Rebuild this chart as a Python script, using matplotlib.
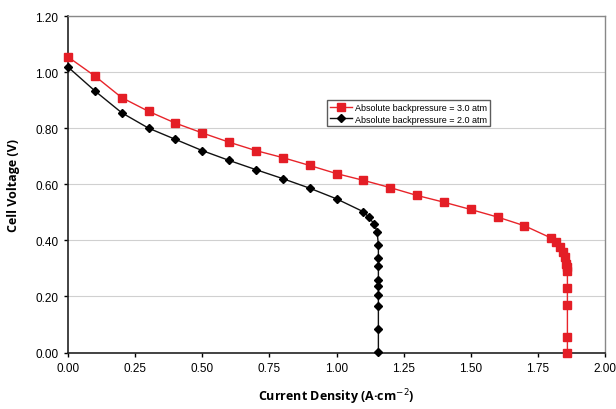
import matplotlib.pyplot as plt
import numpy as np

plt.rcParams['font.family'] = ['Liberation Sans', 'DejaVu Sans']

# backpressure 3.0 atm
j3 = [0.0, 0.1, 0.2, 0.3, 0.4, 0.5, 0.6, 0.7, 0.8, 0.9, 1.0, 1.1, 1.2, 1.3, 1.4,
      1.5, 1.6, 1.7, 1.8, 1.818, 1.832, 1.845, 1.851, 1.855, 1.857, 1.86,
      1.86, 1.86, 1.86, 1.86]
v3 = [1.054, 0.986, 0.909, 0.86, 0.818, 0.783, 0.75, 0.72, 0.695, 0.667, 0.638,
      0.614, 0.588, 0.56, 0.536, 0.51, 0.483, 0.452, 0.408, 0.394, 0.376, 0.358,
      0.34, 0.316, 0.304, 0.292, 0.229, 0.17, 0.054, 0.0]

# backpressure 2.0 atm
j2 = [0.0, 0.1, 0.2, 0.3, 0.4, 0.5, 0.6, 0.7, 0.8, 0.9, 1.0, 1.1, 1.12, 1.141,
      1.151, 1.156, 1.156, 1.156, 1.156, 1.156, 1.156, 1.156, 1.156, 1.156]
v2 = [1.018, 0.933, 0.855, 0.80, 0.76, 0.72, 0.685, 0.652, 0.62, 0.586, 0.548,
      0.502, 0.483, 0.457, 0.431, 0.385, 0.338, 0.31, 0.26, 0.236, 0.206, 0.165,
      0.084, 0.003]

fig = plt.figure(figsize=(6.16, 4.10), dpi=100)
ax = fig.add_axes([68/616, 1-353.5/410, 537/616, 336.5/410])

ax.plot(j3, v3, color='#e8242a', lw=1.0, marker='s', ms=6, mfc='#e41e26',
        mec='#e41e26', label='Absolute backpressure = 3.0 atm', zorder=3,
        clip_on=False)
ax.plot(j2, v2, color='#111111', lw=1.0, marker='D', ms=4, mfc='black',
        mec='black', label='Absolute backpressure = 2.0 atm', zorder=4,
        clip_on=False)

ax.set_xlim(0, 2.0)
ax.set_ylim(0, 1.2)
ax.set_xticks(np.arange(0, 2.01, 0.25))
ax.set_yticks(np.arange(0, 1.21, 0.2))
ax.xaxis.set_major_formatter(plt.FormatStrFormatter('%.2f'))
ax.yaxis.set_major_formatter(plt.FormatStrFormatter('%.2f'))
ax.tick_params(labelsize=8.5, length=3, width=1, direction='out', pad=4)
ax.grid(axis='y', color='#d0d0d0', lw=0.8)
ax.set_axisbelow(True)

for s in ['left', 'bottom']:
    ax.spines[s].set_color('#222222')
    ax.spines[s].set_linewidth(1.2)
for s in ['top', 'right']:
    ax.spines[s].set_color('#888888')
    ax.spines[s].set_linewidth(1.0)

ax.set_xlabel('Current Density (A·cm$^{-2}$)', fontsize=9, fontweight='bold',
              family=['Open Sans', 'DejaVu Sans'], labelpad=9)
ax.set_ylabel('Cell Voltage (V)', fontsize=9, fontweight='bold',
              family=['Open Sans', 'DejaVu Sans'], labelpad=11)

leg = ax.legend(loc='upper left', bbox_to_anchor=(0.482, 0.75), fontsize=6.5,
                frameon=True, fancybox=False, edgecolor='#333333',
                borderpad=0.3, handlelength=2.5, labelspacing=0.3,
                handletextpad=0.3, borderaxespad=0)
leg.get_frame().set_linewidth(1.0)

plt.savefig('out.png', dpi=100)
